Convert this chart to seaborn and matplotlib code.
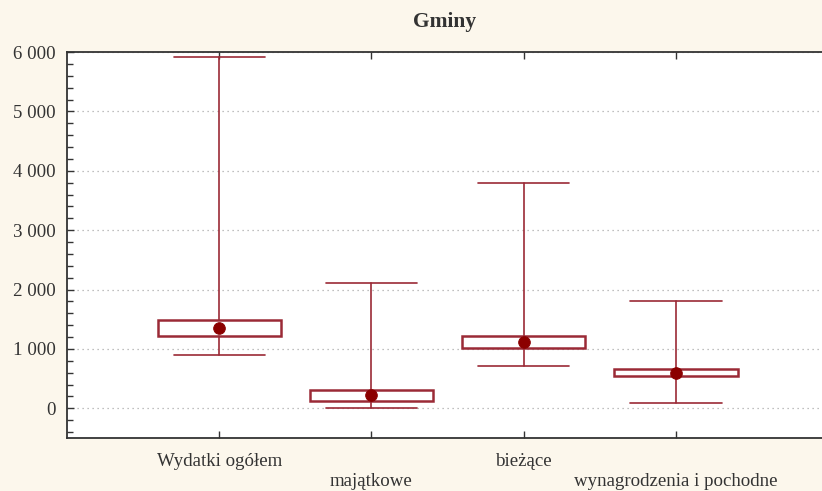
"""
Gminy - rozkład wydatków (box: kwartyle, kropka: mediana, wąsy: min-max)
"""

import numpy as np
import matplotlib
matplotlib.use('Agg')
import matplotlib.pyplot as plt
from matplotlib.ticker import MultipleLocator, FuncFormatter
import seaborn as sns

# Data
categories = ['Wydatki ogółem', 'majątkowe', 'bieżące', 'wynagrodzenia i pochodne']
minimum = [895, 0, 710, 95]
q1 = [1213, 115, 1018, 548]
median = [1355, 220, 1120, 588]
q3 = [1483, 315, 1213, 668]
maximum = [5910, 2110, 3790, 1805]

box_color = '#9b2a36'
dot_color = '#8b0000'
bg_color = '#fcf7ec'
text_color = '#333333'

sns.set_style('white')
plt.rcParams['font.family'] = ['Liberation Serif', 'DejaVu Serif']

fig = plt.figure(figsize=(8.22, 4.91), dpi=100, facecolor=bg_color)
ax = fig.add_axes([0.0815, 0.108, 0.9185, 0.786])
ax.set_facecolor('white')

positions = np.arange(len(categories))
stats = []
for i in range(len(categories)):
    stats.append({'whislo': minimum[i], 'q1': q1[i], 'med': median[i], 'q3': q3[i], 'whishi': maximum[i], 'fliers': []})

ax.bxp(stats, positions=positions, widths=0.81, showfliers=False, patch_artist=True,
       boxprops=dict(facecolor='white', edgecolor=box_color, linewidth=1.8),
       whiskerprops=dict(color=box_color, linewidth=1.2),
       capprops=dict(color=box_color, linewidth=1.2),
       medianprops=dict(linewidth=0),
       capwidths=0.6, zorder=3)

# median dots
sns.scatterplot(x=positions, y=median, color=dot_color, s=70, edgecolor=dot_color, zorder=4, ax=ax)

ax.set_xlim(-1, 3.96)
ax.set_ylim(-500, 6000)

ax.yaxis.set_major_locator(MultipleLocator(1000))
ax.yaxis.set_minor_locator(MultipleLocator(200))
ax.yaxis.set_major_formatter(FuncFormatter(lambda v, p: f'{int(v):,}'.replace(',', ' ')))
ax.grid(axis='y', which='major', linestyle=(0, (1, 3)), color='#aaaaaa', linewidth=0.9, zorder=0)

ax.set_xticks(positions)
ax.set_xticklabels([c if i % 2 == 0 else '\n' + c for i, c in enumerate(categories)], linespacing=1.2)
ax.tick_params(axis='x', direction='in', length=5, width=1, top=True, bottom=True, pad=11, labelsize=13.6,
               color=text_color, labelcolor=text_color)
ax.tick_params(axis='y', which='major', direction='in', length=5, width=1, left=True, pad=8, labelsize=13.6,
               color=text_color, labelcolor=text_color)
ax.tick_params(axis='y', which='minor', direction='in', length=4, width=1, left=True, color=text_color)

for side in ['left', 'top', 'bottom']:
    ax.spines[side].set_color(text_color)
    ax.spines[side].set_linewidth(1.3)
ax.spines['right'].set_visible(False)

ax.set_title('Gminy', fontsize=15.5, fontweight='bold', pad=18, color=text_color)

plt.savefig('out.png', dpi=100, facecolor=bg_color)
